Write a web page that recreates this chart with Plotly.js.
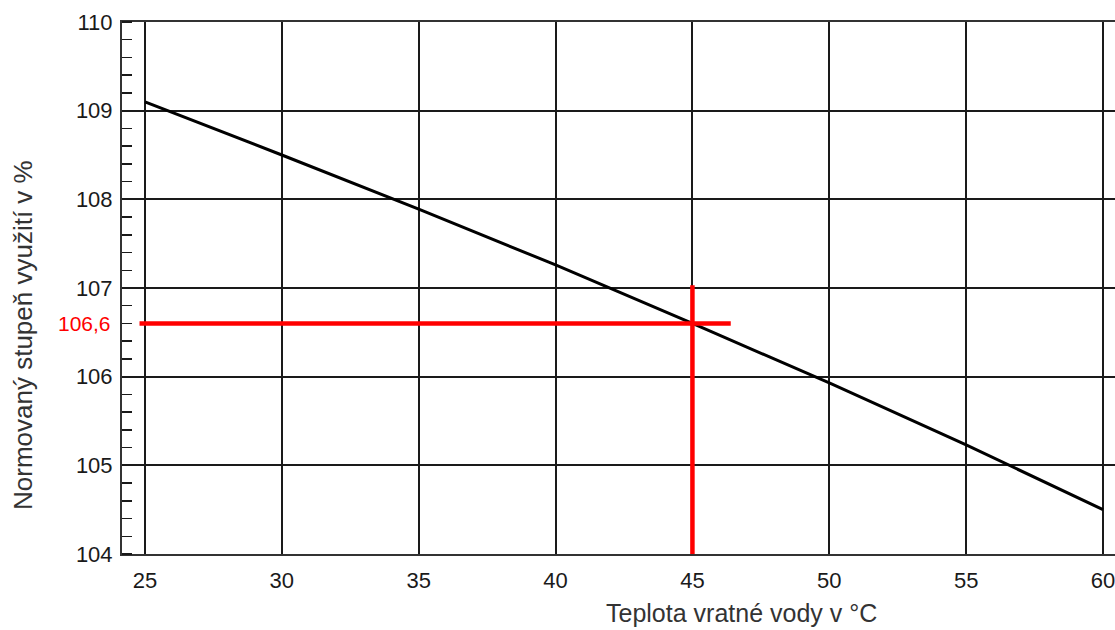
<!DOCTYPE html>
<html>
<head>
<meta charset="utf-8">
<script src="https://cdn.plot.ly/plotly-3.0.1.min.js"></script>
<style>
html,body{margin:0;padding:0;background:#fff;overflow:hidden;}
#chart{width:1140px;height:630px;}
</style>
</head>
<body>
<div id="chart"></div>
<script>
// Data
const temperature = [25, 30, 35, 40, 45, 50, 55, 60];
const efficiency = [109.1, 108.5, 107.89, 107.26, 106.6, 105.93, 105.23, 104.5];

// Reference reading (red cross)
const refTemp = 45;
const refValue = 106.6;
const refLabel = "106,6";
const refHorizX = [24.8, 46.4];
const refVertY = [104, 107.03];

const xTicks = [25, 30, 35, 40, 45, 50, 55, 60];
const yTicks = [104, 105, 106, 107, 108, 109, 110];

const xTitle = "Teplota vratné vody v °C";
const yTitle = "Normovaný stupeň využití v %";

const font = "Liberation Sans, Arial, Helvetica, sans-serif";
const ink = "#1a1a1a";

const traces = [
  {
    x: temperature, y: efficiency, type: "scatter", mode: "lines",
    line: {color: "#000", width: 3}, hoverinfo: "skip", showlegend: false
  },
  {
    x: refHorizX, y: [refValue, refValue], type: "scatter", mode: "lines",
    line: {color: "#ff0000", width: 4.5}, showlegend: false, hoverinfo: "skip"
  },
  {
    x: [refTemp, refTemp], y: refVertY, type: "scatter", mode: "lines",
    line: {color: "#ff0000", width: 4.5}, showlegend: false, hoverinfo: "skip", cliponaxis: false
  }
];

const layout = {
  width: 1140, height: 630,
  margin: {l: 122, r: 14, t: 22, b: 76},
  paper_bgcolor: "#fff", plot_bgcolor: "#fff",
  showlegend: false,
  font: {family: font, color: ink, size: 22},
  xaxis: {
    range: [24.16, 60.84],
    tickvals: xTicks,
    ticktext: xTicks.map(String),
    showgrid: true, gridcolor: ink, gridwidth: 2,
    showline: true, linecolor: "#333", linewidth: 2, mirror: true,
    ticks: "", zeroline: false,
    tickfont: {family: font, size: 22, color: ink},
    ticklabelstandoff: 6
  },
  yaxis: {
    range: [104, 110],
    tickvals: yTicks,
    ticktext: yTicks.map(String),
    showgrid: true, gridcolor: ink, gridwidth: 2,
    showline: true, linecolor: "#333", linewidth: 2, mirror: true,
    ticks: "", zeroline: false,
    tickfont: {family: font, size: 22, color: ink},
    ticklabelstandoff: 3,
    minor: {dtick: 0.2, ticks: "inside", ticklen: 10, tickwidth: 1.5, tickcolor: ink, showgrid: false}
  },
  annotations: [
    {
      text: refLabel, xref: "paper", x: 0, yref: "y", y: refValue,
      xanchor: "right", yanchor: "middle", xshift: -9, showarrow: false,
      font: {family: font, size: 21, color: "#ff0000"}
    },
    {
      text: xTitle, xref: "paper", x: (741 - 122) / 1004, yref: "paper", y: 0,
      xanchor: "center", yanchor: "top", yshift: -43, showarrow: false,
      font: {family: font, size: 25, color: "#333"}
    },
    {
      text: yTitle, xref: "paper", x: 0, xanchor: "center", xshift: -99,
      yref: "paper", y: (554 - 335) / 532, yanchor: "middle",
      textangle: -90, showarrow: false,
      font: {family: font, size: 26, color: "#333"}
    }
  ]
};

Plotly.newPlot("chart", traces, layout, {displayModeBar: false, staticPlot: true});
</script>
</body>
</html>
